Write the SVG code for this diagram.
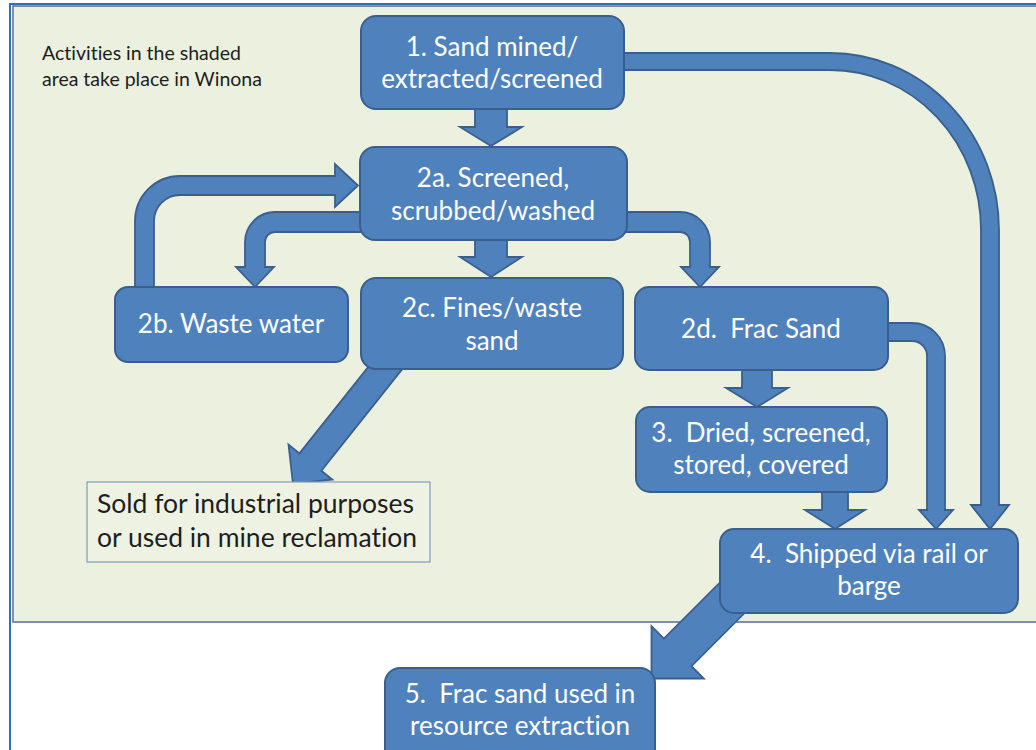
<svg xmlns="http://www.w3.org/2000/svg" width="1036" height="750" viewBox="0 0 1036 750">
<style>
.box{fill:#4F81BD;stroke:#3A5F8C;stroke-width:2}
.arr{fill:#4F81BD;stroke:#3A5F8C;stroke-width:1.8;stroke-linejoin:miter}
.wt{font-family:Lato,"Liberation Sans",sans-serif;font-size:26px;fill:#FFFFFF;text-anchor:middle;font-variant-ligatures:none}
.dk{font-family:Lato,"Liberation Sans",sans-serif;fill:#1E1E1E;font-variant-ligatures:none}
</style>
<rect x="0" y="0" width="1036" height="750" fill="#FFFFFF"/>
<rect x="10" y="4" width="1040" height="760" fill="#FFFFFF" stroke="#2F6FBE" stroke-width="2"/>
<rect x="13" y="6" width="1040" height="616" fill="#EBF1DE" stroke="#5B6E8C" stroke-width="1.5"/>
<text class="dk" x="42" y="60" font-size="19.5">Activities in the shaded</text>
<text class="dk" x="42" y="86" font-size="19.5">area take place in Winona</text>
<g id="connectors">
<path class="arr" d="M475,100 L507,100 L507,127 L522,127 L491,146 L460,127 L475,127 Z"/>
<path class="arr" d="M475,232 L507,232 L507,257 L522,257 L491,277 L460,257 L475,257 Z"/>
<path class="arr" d="M370,212 L275,212 A30,30 0 0 0 245,242 L245,267 L236,267 L255,287 L274,267 L265,267 L265,242 A10,10 0 0 1 275,232 L370,232 Z"/>
<path class="arr" d="M617,212 L680,212 A30,30 0 0 1 710,242 L710,267 L719,267 L700,287 L681,267 L690,267 L690,242 A10,10 0 0 0 680,232 L617,232 Z"/>
<path class="arr" d="M135,300 L135,221 A45,45 0 0 1 180,176 L335,176 L335,164 L358,185.5 L335,207 L335,195 L180,195 A26,26 0 0 0 154,221 L154,300 Z"/>
<path class="arr" d="M610,53 L830,53 A169,177 0 0 1 999,230 L999,505 L1009,505 L990,529 L971,505 L981,505 L981,230 A151,160 0 0 0 830,70 L610,70 Z"/>
<path class="arr" d="M742,362 L772,362 L772,388 L788,388 L757,407 L726,388 L742,388 Z"/>
<path class="arr" d="M822,484 L848,484 L848,510 L865,510 L835,529 L805,510 L822,510 Z"/>
<path class="arr" d="M878,323 L912,323 A33,33 0 0 1 945,356 L945,510 L953,510 L936,529 L919,510 L927,510 L927,356 A15,15 0 0 0 912,341 L878,341 Z"/>
<path class="arr" transform="translate(293,484) rotate(128.5)" d="M-170,-14 L-28,-14 L-28,-28 L0,0 L-28,28 L-28,14 L-170,14 Z"/>
<path class="arr" transform="translate(651.5,678.5) rotate(135)" d="M-140,-19.5 L-37,-19.5 L-37,-37 L0,0 L-37,37 L-37,19.5 L-140,19.5 Z"/>
</g>
<g id="n1">
<rect class="box" x="361" y="16" width="263" height="93" rx="15"/>
<text class="wt" x="492" y="56">1. Sand mined/</text>
<text class="wt" x="492" y="88">extracted/screened</text>
</g>
<g id="n2a">
<rect class="box" x="360" y="147" width="267" height="93" rx="15"/>
<text class="wt" x="493" y="187">2a. Screened,</text>
<text class="wt" x="493" y="220">scrubbed/washed</text>
</g>
<g id="n2b">
<rect class="box" x="115" y="287" width="233" height="75" rx="13"/>
<text class="wt" x="231" y="333">2b. Waste water</text>
</g>
<g id="n2c">
<rect class="box" x="361" y="278" width="262" height="91" rx="15"/>
<text class="wt" x="492" y="317">2c. Fines/waste</text>
<text class="wt" x="492" y="350">sand</text>
</g>
<g id="n2d">
<rect class="box" x="635" y="287" width="253" height="83" rx="14"/>
<text class="wt" x="761" y="338" xml:space="preserve">2d.  Frac Sand</text>
</g>
<g id="n3">
<rect class="box" x="636" y="407" width="251" height="85" rx="14"/>
<text class="wt" x="761" y="442" xml:space="preserve">3.  Dried, screened,</text>
<text class="wt" x="761" y="474">stored, covered</text>
</g>
<g id="n4">
<rect class="box" x="720" y="529" width="298" height="84" rx="14"/>
<text class="wt" x="869" y="563" xml:space="preserve">4.  Shipped via rail or</text>
<text class="wt" x="869" y="595">barge</text>
</g>
<g id="n5">
<rect class="box" x="385" y="668" width="270" height="100" rx="15"/>
<text class="wt" x="520" y="703" xml:space="preserve">5.  Frac sand used in</text>
<text class="wt" x="520" y="735">resource extraction</text>
</g>
<g id="sold">
<rect x="87" y="482" width="343" height="80" fill="#EDF2E2" stroke="#7E9CBC" stroke-width="1.2"/>
<text class="dk" x="97" y="513" font-size="26.5">Sold for industrial purposes</text>
<text class="dk" x="97" y="547" font-size="26.5">or used in mine reclamation</text>
</g>
</svg>
